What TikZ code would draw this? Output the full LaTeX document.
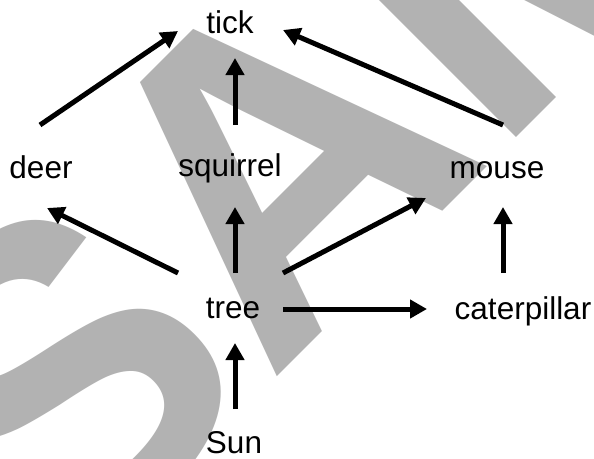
\documentclass[tikz,border=0pt]{standalone}
\usepackage{fontspec}
\setmainfont{Liberation Sans}
\usetikzlibrary{arrows.meta,calc}
\definecolor{wm}{RGB}{178,178,178}
\begin{document}
\begin{tikzpicture}[x=1pt,y=-1pt,
  lbl/.style={inner sep=0pt,anchor=base,font=\fontsize{31.5}{31.5}\selectfont},
  arr/.style={line width=5pt,-{Triangle[length=17pt,width=18pt]}}]
\useasboundingbox (0,0) rectangle (594,458);
\clip (0,0) rectangle (594,458);
\fill[white] (0,0) rectangle (594,458);
% watermark
\node[inner sep=0pt,anchor=base west,rotate=45,text=wm,font=\fontsize{443}{443}\selectfont\bfseries] (wmark) at (60,594) {SAMPLE};
% labels
\node[lbl] (tick) at (230,33) {tick};
\node[lbl] (deer) at (41,178) {deer};
\node[lbl] (squirrel) at (230,176) {squirrel};
\node[lbl] (mouse) at (497,178) {mouse};
\node[lbl] (tree) at (233,318) {tree};
\node[lbl] (cat) at (523,319) {caterpillar};
\node[lbl] (sun) at (234,453) {Sun};
% arrows
\draw[arr] ($(deer.base)+(-1,-53)$) -- ($(tick.base)+(-52,-2)$);
\draw[arr] ($(squirrel.base)+(5,-51)$) -- ($(tick.base)+(5,25)$);
\draw[arr] ($(mouse.base)+(6,-53)$) -- ($(tick.base)+(53,-3)$);
\draw[arr] ($(tree.base)+(-55,-45)$) -- ($(deer.base)+(6,30)$);
\draw[arr] ($(tree.base)+(2,-45)$) -- ($(squirrel.base)+(5,31)$);
\draw[arr] ($(tree.base)+(50,-45)$) -- ($(mouse.base)+(-71,20)$);
\draw[arr] ($(tree.base)+(50,-9)$) -- ($(cat.base)+(-96,-10)$);
\draw[arr] ($(cat.base)+(-20,-46)$) -- ($(mouse.base)+(6,29)$);
\draw[arr] ($(sun.base)+(1,-44)$) -- ($(tree.base)+(2,25)$);
\end{tikzpicture}
\end{document}
